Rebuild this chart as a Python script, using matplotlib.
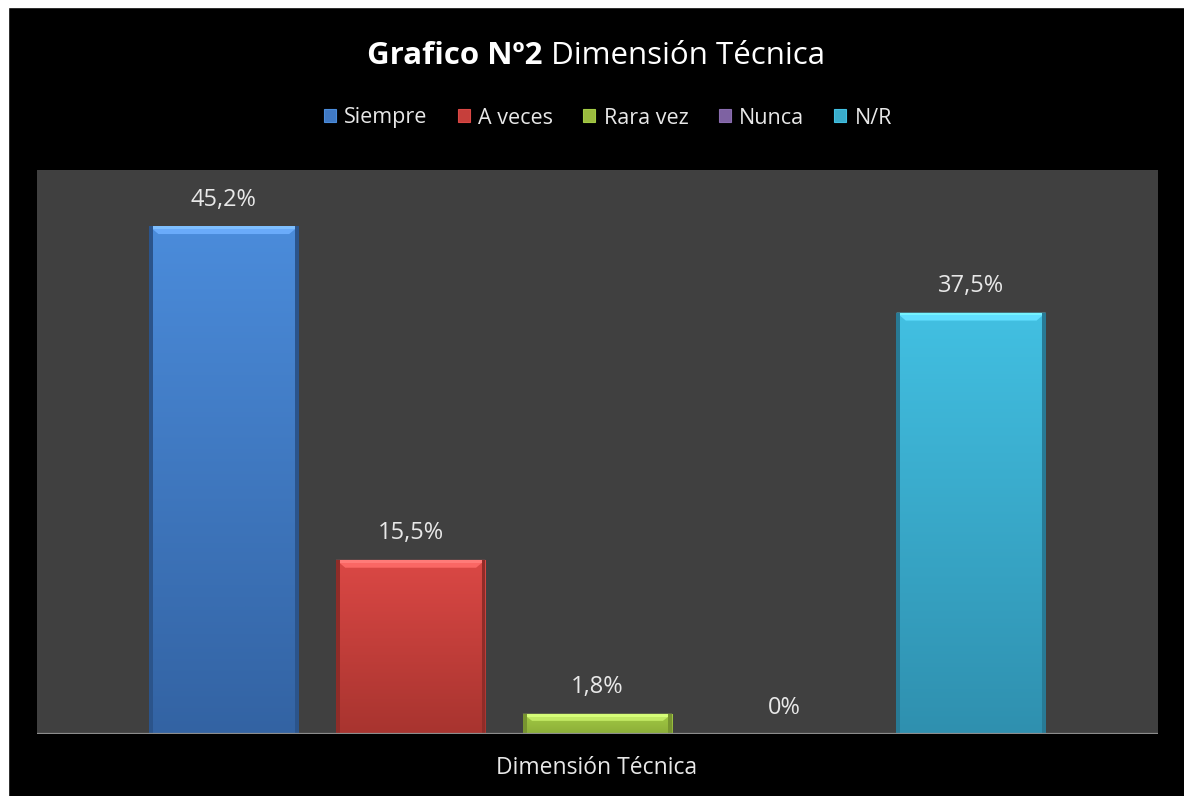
import matplotlib
matplotlib.use("Agg")
import matplotlib.pyplot as plt
import matplotlib.patches as mpatches
import numpy as np

plt.rcParams['font.family'] = ['Open Sans', 'DejaVu Sans']

categorias = ['Siempre', 'A veces', 'Rara vez', 'Nunca', 'N/R']
valores = [45.2, 15.5, 1.8, 0.0, 37.5]
etiquetas = ['45,2%', '15,5%', '1,8%', '0%', '37,5%']
grupo = 'Dimensión Técnica'

# colores arriba / abajo para el degradado
col_top = ['#4B8CDB', '#DB4845', '#A3CB45', '#8A6DB0', '#42C0E2']
col_bot = ['#3363A3', '#A8342F', '#8CAE38', '#6A5090', '#2F90AF']
col_mid = ['#4079C4', '#C63F3B', '#9BBB3F', '#7E62A2', '#3AACCB']

W, H = 1184, 796
fig = plt.figure(figsize=(W / 100, H / 100), dpi=100)
fig.patch.set_facecolor('black')
# borde blanco arriba e izquierda
fig.patches.append(mpatches.Rectangle((0, 1 - 7 / H), 1, 7 / H, transform=fig.transFigure,
                                      color='white', zorder=0))
fig.patches.append(mpatches.Rectangle((0, 0), 8 / W, 1, transform=fig.transFigure,
                                      color='white', zorder=0))

ax = fig.add_axes([37 / W, 62 / H, (1158 - 37) / W, (734 - 170) / H])
ax.set_facecolor('#404040')
x = np.arange(len(categorias))
bars = ax.bar(x, valores, width=0.8, color=col_mid, zorder=2)

ax.set_xlim(-1, 5)
ax.set_ylim(0, 50.2)

for b, ct, cb in zip(bars, col_top, col_bot):
    h = b.get_height()
    if h <= 0:
        continue
    x0 = b.get_x()
    w = b.get_width()
    c1 = np.array(matplotlib.colors.to_rgb(ct))
    c2 = np.array(matplotlib.colors.to_rgb(cb))
    t = np.linspace(0, 1, 256)[:, None]
    grad = (c1 * (1 - t) + c2 * t)[:, None, :]
    im = ax.imshow(grad, extent=(x0, x0 + w, 0, h), aspect='auto', zorder=3,
                   interpolation='bilinear')
    im.set_clip_path(b)
    # bisel superior
    bev = min(0.7, h * 0.35)
    light = np.clip(c1 + 0.12, 0, 1)
    ax.add_patch(mpatches.Polygon([(x0, h), (x0 + w, h), (x0 + w - 0.05, h - bev),
                                   (x0 + 0.05, h - bev)], closed=True,
                                  color=light, zorder=4, lw=0))
    ax.add_patch(mpatches.Rectangle((x0, h - 0.25), w, 0.25, color=np.clip(c1 + 0.2, 0, 1),
                                    zorder=4, lw=0))
    ax.add_patch(mpatches.Rectangle((x0, 0), 0.02, h, color=c2 * 0.85, zorder=4, lw=0))
    ax.add_patch(mpatches.Rectangle((x0 + w - 0.02, 0), 0.02, h, color=c2 * 0.85,
                                    zorder=4, lw=0))

for xi, v, lab in zip(x, valores, etiquetas):
    ax.annotate(lab, (xi, v), xytext=(0, 19), textcoords='offset points',
                ha='center', va='center', color='#E8E8E8', fontsize=17, zorder=5)

ax.axhline(0, color='#8C8C8C', lw=1.6, zorder=6)
ax.set_xticks([])
ax.set_yticks([])
for s in ax.spines.values():
    s.set_visible(False)

# titulo: parte en negrita y parte normal
ty = 1 - 56 / H
t1 = fig.text(0, ty, 'Grafico Nº2', fontsize=22.5, fontweight='bold',
              color='white', ha='left', va='center')
t2 = fig.text(0, ty, ' Dimensión Técnica', fontsize=22.5,
              color='white', ha='left', va='center')
fig.canvas.draw()
r = fig.canvas.get_renderer()
w1 = t1.get_window_extent(r).width
w2 = t2.get_window_extent(r).width
x_ini = 596 - (w1 + w2) / 2
t1.set_x(x_ini / W)
t2.set_x((x_ini + w1) / W)

handles = [mpatches.Patch(facecolor=c, edgecolor=ct, lw=0.8) for c, ct in zip(col_mid, col_top)]
leg = fig.legend(handles, categorias, loc='center', bbox_to_anchor=(608 / W, 1 - 118 / H),
                 ncol=5, frameon=False, fontsize=15.5, handlelength=0.55, handleheight=0.55,
                 handletextpad=0.4, columnspacing=1.4)
for txt in leg.get_texts():
    txt.set_color('#E8E8E8')

fig.text(597 / W, 1 - 768 / H, grupo, fontsize=16.5, color='#E8E8E8',
         ha='center', va='center')

fig.savefig('out.png', dpi=100, facecolor=fig.get_facecolor())
